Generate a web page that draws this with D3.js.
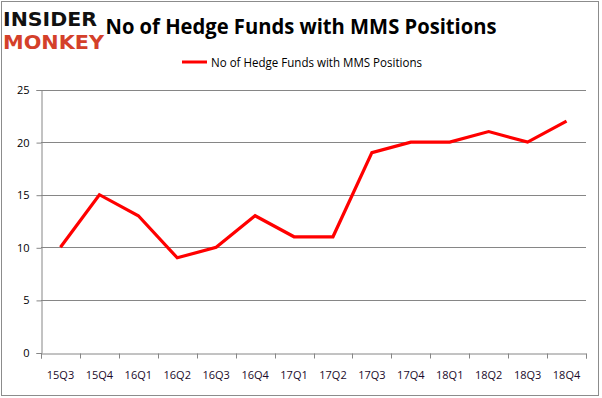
<!DOCTYPE html>
<html>
<head>
<meta charset="utf-8">
<title>No of Hedge Funds with MMS Positions</title>
<style>
  body { margin: 0; background: #fff; }
  text { font-family: "Open Sans", "Liberation Sans", sans-serif; }
</style>
<script src="https://d3js.org/d3.v7.min.js"></script>
</head>
<body>
<svg id="chart" width="602" height="398"></svg>
<script>
const quarters = ["15Q3", "15Q4", "16Q1", "16Q2", "16Q3", "16Q4", "17Q1", "17Q2",
                  "17Q3", "17Q4", "18Q1", "18Q2", "18Q3", "18Q4"];
const funds = [10, 15, 13, 9, 10, 13, 11, 11, 19, 20, 20, 21, 20, 22];
const yTicks = [0, 5, 10, 15, 20, 25];
const seriesName = "No of Hedge Funds with MMS Positions";

const svg = d3.select("#chart");
const plot = { left: 41, right: 586, top: 89.5, bottom: 352.5 };

// outer frame
svg.append("rect")
   .attr("x", 1.5).attr("y", 1.5)
   .attr("width", 597).attr("height", 394)
   .style("fill", "#fff").style("stroke", "#8c8c8c").style("stroke-width", 1);

const x = d3.scaleBand()
            .domain(quarters)
            .range([plot.left, plot.right]);

const y = d3.scaleLinear()
            .domain([0, 25])
            .range([plot.bottom, plot.top]);

// gridlines
svg.append("g")
   .selectAll("line")
   .data(yTicks.filter(d => d > 0))
   .join("line")
   .attr("x1", plot.left).attr("x2", plot.right)
   .attr("y1", d => Math.round(y(d)) + 0.5).attr("y2", d => Math.round(y(d)) + 0.5)
   .style("stroke", "#868686").style("stroke-width", 1);

// y axis
const yAxis = d3.axisLeft(y).tickValues(yTicks).tickSize(5).tickPadding(7);
const gy = svg.append("g")
   .attr("transform", `translate(${plot.left + 0.5},0.5)`)
   .call(yAxis);
gy.select(".domain").style("stroke", "#868686");
gy.selectAll(".tick line").style("stroke", "#868686");
gy.selectAll(".tick text").style("font-size", "11px").style("fill", "#000");

// x axis
const xAxis = d3.axisBottom(x).tickSize(5).tickPadding(13).tickSizeOuter(5);
const gx = svg.append("g")
   .attr("transform", `translate(0,${Math.round(plot.bottom) + 0.5})`)
   .call(xAxis);
gx.select(".domain").style("stroke", "#868686");
gx.selectAll(".tick line").remove();
gx.append("g")
  .selectAll("line")
  .data(d3.range(quarters.length + 1))
  .join("line")
  .attr("x1", i => Math.round(plot.left + i * x.step()) + 0.5)
  .attr("x2", i => Math.round(plot.left + i * x.step()) + 0.5)
  .attr("y1", 0).attr("y2", 5)
  .style("stroke", "#868686");
gx.selectAll(".tick text").style("font-size", "11px").style("fill", "#1a0a2a");

// series line
const line = d3.line()
               .x((d, i) => x(quarters[i]) + x.bandwidth() / 2)
               .y(d => y(d));

svg.append("path")
   .datum(funds)
   .attr("d", line)
   .style("fill", "none")
   .style("stroke", "#ff0000")
   .style("stroke-width", 3.2)
   .style("stroke-linejoin", "miter");

// title
svg.append("text")
   .attr("x", 301).attr("y", 34)
   .attr("text-anchor", "middle")
   .attr("textLength", 391).attr("lengthAdjust", "spacingAndGlyphs")
   .style("font-size", "22px").style("font-weight", "bold")
   .style("fill", "#000")
   .text(seriesName);

// legend
svg.append("line")
   .attr("x1", 182).attr("x2", 207).attr("y1", 62).attr("y2", 62)
   .style("stroke", "#ff0000").style("stroke-width", 3);
svg.append("text")
   .attr("x", 211).attr("y", 66.5)
   .attr("textLength", 211).attr("lengthAdjust", "spacingAndGlyphs")
   .style("font-size", "12px").style("fill", "#000")
   .text(seriesName);

// logo
svg.append("text")
   .attr("x", 3).attr("y", 26)
   .attr("textLength", 94).attr("lengthAdjust", "spacingAndGlyphs")
   .style("font-family", "'DejaVu Sans', sans-serif")
   .style("font-size", "19px").style("font-weight", "900")
   .style("fill", "#111")
   .text("INSIDER");
svg.append("text")
   .attr("x", 3).attr("y", 49)
   .attr("textLength", 101).attr("lengthAdjust", "spacingAndGlyphs")
   .style("font-family", "'DejaVu Sans', sans-serif")
   .style("font-size", "19px").style("font-weight", "900")
   .style("fill", "#d4402a")
   .text("MONKEY");
</script>
</body>
</html>
